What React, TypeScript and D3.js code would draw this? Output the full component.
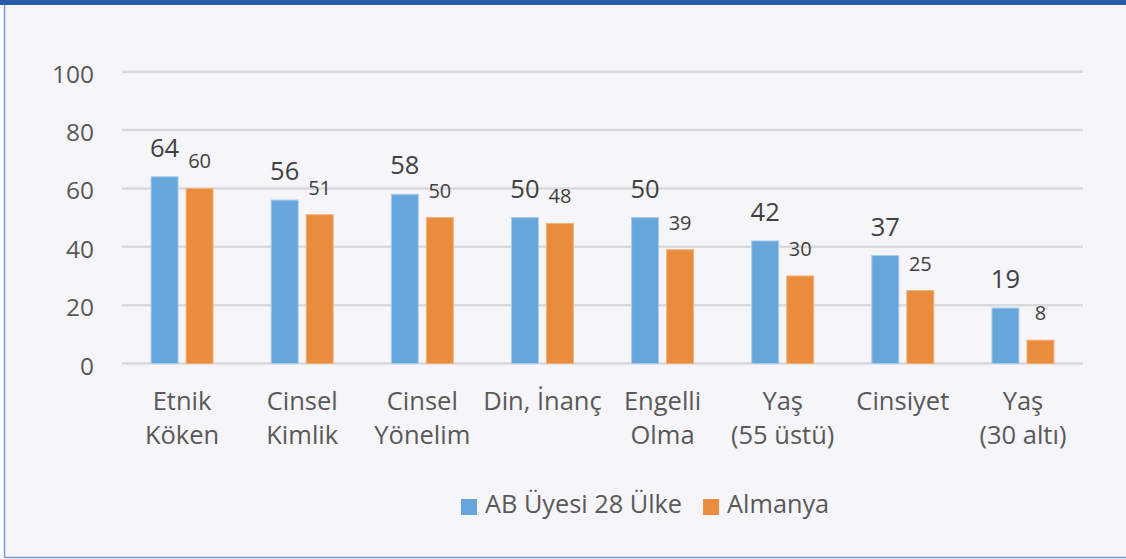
import { useEffect, useRef } from 'react'
import * as d3 from 'd3'

const categories = [
  ['Etnik', 'Köken'],
  ['Cinsel', 'Kimlik'],
  ['Cinsel', 'Yönelim'],
  ['Din, İnanç'],
  ['Engelli', 'Olma'],
  ['Yaş', '(55 üstü)'],
  ['Cinsiyet'],
  ['Yaş', '(30 altı)']
]
const seriesNames = ['AB Üyesi 28 Ülke', 'Almanya']
const abValues = [64, 56, 58, 50, 50, 42, 37, 19]
const almanyaValues = [60, 51, 50, 48, 39, 30, 25, 8]
const yTicks = [0, 20, 40, 60, 80, 100]

const colors = ['#67a6da', '#e98c3d']
const strokes = ['#a8cdee', '#f3b27c']
const labelSizes = [25.5, 20]
const textColor = '#595959'
const font = '"Open Sans", "Noto Sans", sans-serif'

export default function App() {
  const svgRef = useRef<SVGSVGElement>(null)
  const width = 1126
  const height = 559

  useEffect(() => {
    if (!svgRef.current) return
    const svg = d3.select(svgRef.current)
    svg.selectAll('*').remove()

    // frame: background, left and bottom border, top band
    svg.append('rect').attr('width', width).attr('height', height).attr('fill', '#ffffff')
    svg.append('rect')
      .attr('x', 4.5).attr('y', 2).attr('width', width).attr('height', 555.5)
      .attr('fill', '#f5f5fa')
    svg.append('path')
      .attr('d', `M4.5,2V557.5H${width}`)
      .attr('fill', 'none').attr('stroke', '#7b9bd6').attr('stroke-width', 1.5)
    svg.append('rect').attr('x', 0).attr('y', 0).attr('width', width).attr('height', 5).attr('fill', '#2a5ca8')

    const x0 = d3.scaleBand<number>()
      .domain(d3.range(categories.length))
      .range([122, 1083])
      .paddingInner(0.484)
      .paddingOuter(0.242)
    const x1 = d3.scaleBand<number>()
      .domain([0, 1])
      .range([0, x0.bandwidth()])
      .paddingInner(0.23)
    const y = d3.scaleLinear().domain([0, 100]).range([363.5, 71.7])

    // gridlines
    svg.append('g').selectAll('line')
      .data(yTicks)
      .enter()
      .append('line')
      .attr('x1', 122).attr('x2', 1083)
      .attr('y1', d => y(d)).attr('y2', d => y(d))
      .attr('stroke', '#d9d9de').attr('stroke-width', 2.5)

    // y tick labels
    svg.append('g').selectAll('text')
      .data(yTicks)
      .enter()
      .append('text')
      .attr('x', 94).attr('y', d => y(d) + 11)
      .attr('text-anchor', 'end')
      .attr('font-family', font).attr('font-size', 24.5).attr('fill', textColor)
      .text(d => d)

    const seriesData = [abValues, almanyaValues]
    seriesData.forEach((vals, s) => {
      const g = svg.append('g')
      g.selectAll('rect')
        .data(vals)
        .enter()
        .append('rect')
        .attr('x', (d, i) => (x0(i) || 0) + (x1(s) || 0))
        .attr('y', d => y(d))
        .attr('width', x1.bandwidth())
        .attr('height', d => y(0) - y(d))
        .attr('fill', colors[s])
        .attr('stroke', strokes[s]).attr('stroke-width', 1)
      g.selectAll('text')
        .data(vals)
        .enter()
        .append('text')
        .attr('x', (d, i) => (x0(i) || 0) + (x1(s) || 0) + x1.bandwidth() / 2)
        .attr('y', d => y(d) - 20)
        .attr('text-anchor', 'middle')
        .attr('font-family', font).attr('font-size', labelSizes[s]).attr('fill', '#404040')
        .text(d => d)
    })

    // category labels
    const cat = svg.append('g').selectAll('text')
      .data(categories)
      .enter()
      .append('text')
      .attr('text-anchor', 'middle')
      .attr('font-family', font).attr('font-size', 25.5).attr('fill', textColor)
    cat.selectAll('tspan')
      .data((d, i) => d.map(line => ({ line, i })))
      .enter()
      .append('tspan')
      .attr('x', d => (x0(d.i) || 0) + x0.bandwidth() / 2)
      .attr('y', (d, j) => 410 + j * 34)
      .text(d => d.line)

    // legend
    const legend = svg.append('g').attr('transform', 'translate(461,0)')
    let lx = 0
    seriesNames.forEach((name, s) => {
      legend.append('rect')
        .attr('x', lx).attr('y', 499).attr('width', 16).attr('height', 16)
        .attr('fill', colors[s])
      const t = legend.append('text')
        .attr('x', lx + 24).attr('y', 513)
        .attr('font-family', font).attr('font-size', 25.3).attr('fill', textColor)
        .text(name)
      const w = (t.node() as SVGTextElement).getComputedTextLength()
      lx += 24 + w + 21
    })
  }, [])

  return (
    <svg
      ref={svgRef}
      width={width}
      height={height}
      style={{ position: 'absolute', left: 0, top: 0, display: 'block' }}
    />
  )
}
